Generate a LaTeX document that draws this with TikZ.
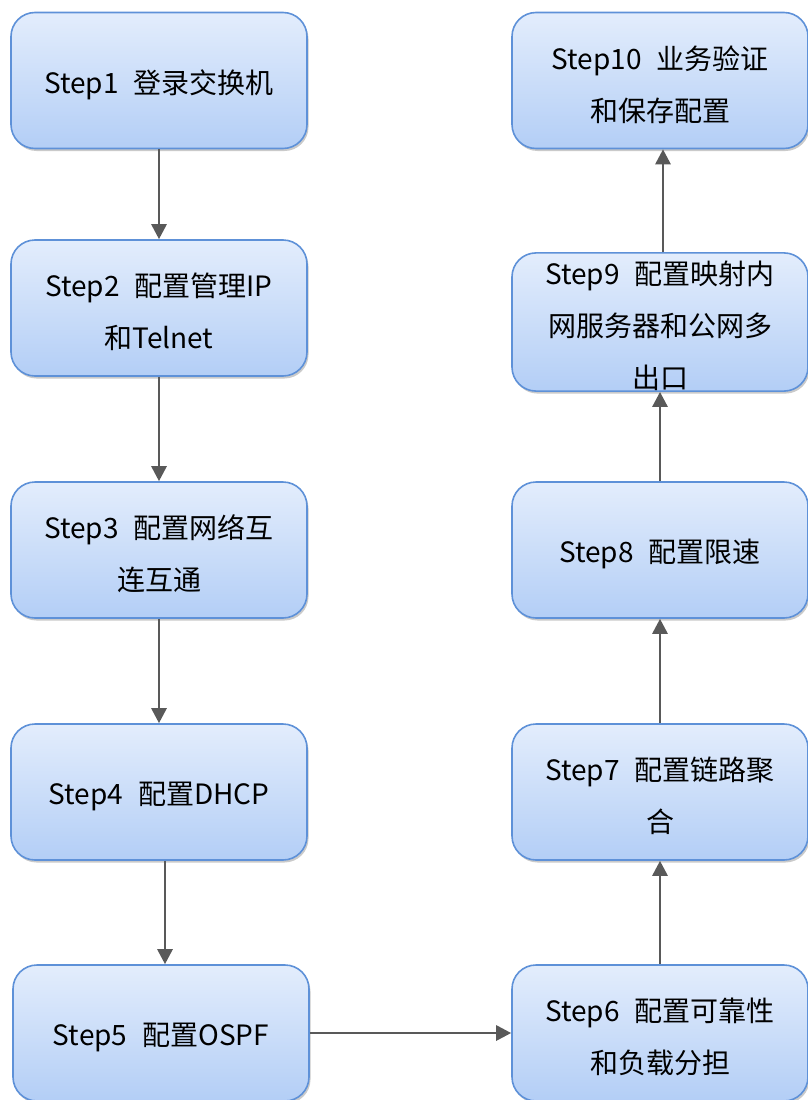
\documentclass[tikz,border=0pt]{standalone}
\usepackage{fontspec}
\setmainfont{Noto Sans CJK SC}
\usetikzlibrary{arrows.meta,shadows}
\definecolor{boxtop}{HTML}{E3EDFC}
\definecolor{boxbot}{HTML}{B3CEF6}
\definecolor{boxline}{HTML}{5E91D8}
\definecolor{arrowc}{HTML}{595959}
\newcommand{\stepgap}{\hspace{15pt}}
\newcommand{\toplift}{\rule{0pt}{32pt}}
\tikzset{
  stepbox/.style={rectangle, rounded corners=24pt, draw=boxline, line width=1.6pt,
    top color=boxtop, bottom color=boxbot, minimum width=296pt, minimum height=136pt,
    align=center, inner sep=0pt,
    font=\fontsize{28pt}{52pt}\selectfont,
    drop shadow={shadow xshift=1.5pt, shadow yshift=-2.5pt, opacity=0.35, fill=black!60}},
  flow/.style={draw=arrowc, line width=2.8pt, -{Triangle[length=15pt,width=15pt]}}
}
\begin{document}
\begin{tikzpicture}[x=1pt,y=-1pt]
\useasboundingbox (0,0) rectangle (808,1100);
\node[stepbox] (s1) at (159,80.5) {\toplift Step1\stepgap 登录交换机};
\node[stepbox] (s2) at (159,308) {\toplift Step2\stepgap 配置管理IP\\和Telnet};
\node[stepbox] (s3) at (159,550) {\toplift Step3\stepgap 配置网络互\\连互通};
\node[stepbox] (s4) at (159,792) {\toplift Step4\stepgap 配置DHCP};
\node[stepbox] (s5) at (161,1033) {\toplift Step5\stepgap 配置OSPF};
\node[stepbox] (s6) at (660,1033) {\toplift Step6\stepgap 配置可靠性\\和负载分担};
\node[stepbox] (s7) at (660,792) {\toplift Step7\stepgap 配置链路聚\\合};
\node[stepbox] (s8) at (660,550) {\toplift Step8\stepgap 配置限速};
\node[stepbox] (s9) at (660,322) {\toplift Step9\stepgap 配置映射内\\网服务器和公网多\\出口};
\node[stepbox] (s10) at (660,80.5) {\toplift Step10\stepgap 业务验证\\和保存配置};
\draw[flow] (s1.south) -- (s2.north);
\draw[flow] (s2.south) -- (s3.north);
\draw[flow] (s3.south) -- (s4.north);
\draw[flow] ([xshift=6pt]s4.south) -- ([xshift=4pt]s5.north);
\draw[flow] (s5.east) -- (s6.west);
\draw[flow] (s6.north) -- (s7.south);
\draw[flow] (s7.north) -- (s8.south);
\draw[flow] (s8.north) -- (s9.south);
\draw[flow] ([xshift=3pt]s9.north) -- ([xshift=3pt]s10.south);
\end{tikzpicture}
\end{document}
